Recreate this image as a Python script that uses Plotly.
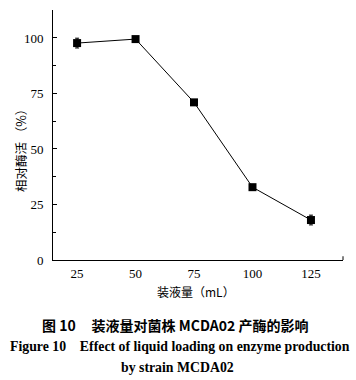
import plotly.graph_objects as go

volumes = [25, 50, 75, 100, 125]
activity = [97.7, 99.5, 71.0, 32.8, 18.0]
errors = [2.2, 0.8, 0.8, 0.8, 2.2]
x_ticks = [25, 50, 75, 100, 125]
y_ticks = [0, 25, 50, 75, 100]

serif = "Liberation Serif, Times New Roman, serif"
cjk = "Noto Sans CJK SC"
sp = "&nbsp;"

fig = go.Figure()
fig.add_trace(go.Scatter(
    x=volumes, y=activity, mode="lines+markers",
    line=dict(color="black", width=1),
    marker=dict(symbol="square", size=8, color="black"),
    error_y=dict(type="data", array=errors, visible=True, color="black", thickness=1, width=2),
    showlegend=False, hoverinfo="skip",
))

ann = dict(xref="paper", yref="paper", showarrow=False, xanchor="center", yanchor="middle")

fig.update_layout(
    width=356, height=380,
    margin=dict(l=53, r=13, t=10, b=120),
    plot_bgcolor="white", paper_bgcolor="white",
    font=dict(family=serif, size=13, color="black"),
    xaxis=dict(
        range=[14.7, 138.7], tickvals=x_ticks, ticktext=[str(v) for v in x_ticks],
        showline=True, linecolor="black", linewidth=1, ticks="", showgrid=False,
        zeroline=False, ticklabelstandoff=1,
        tickfont=dict(family=serif, size=13),
    ),
    yaxis=dict(
        range=[0, 112.6], tickvals=y_ticks, ticktext=[str(v) for v in y_ticks],
        showline=True, linecolor="black", linewidth=1, ticks="inside", ticklen=4,
        tickcolor="black", showgrid=False, zeroline=False,
        minor=dict(tickvals=[12.5, 37.5, 62.5, 87.5, 112.5], ticks="inside", ticklen=3, tickcolor="black"),
        tickfont=dict(family=serif, size=13), ticklabelstandoff=6,
    ),
    shapes=[dict(type="line", xref="paper", yref="paper", x0=1, x1=1, y0=0, y1=0.015,
                 line=dict(color="black", width=1))],
    annotations=[
        dict(ann, text="相对酶活" + sp + "（%）", x=-0.114, y=0.452,
             textangle=-90, font=dict(family=cjk, size=12.5)),
        dict(ann, text="装液量（mL）", x=0.493, y=-0.126,
             font=dict(family=cjk, size=12)),
        dict(ann, text="<b>图" + sp + "10" + sp * 5 + "装液量对菌株" + sp + "MCDA02" + sp + "产酶的影响</b>",
             x=0.42, y=-0.26, font=dict(family=cjk + ", " + serif, size=14)),
        dict(ann, text="<b>Figure" + sp + "10" + sp * 4 + "Effect of liquid loading on enzyme production</b>",
             x=0.438, y=-0.348, font=dict(family=serif, size=13.8)),
        dict(ann, text="<b>by strain MCDA02</b>",
             x=0.431, y=-0.428, font=dict(family=serif, size=13.8)),
    ],
)

fig.write_html("out.html", config={"displayModeBar": False},
               post_script="document.body.style.margin='0';document.body.style.overflow='hidden';")
